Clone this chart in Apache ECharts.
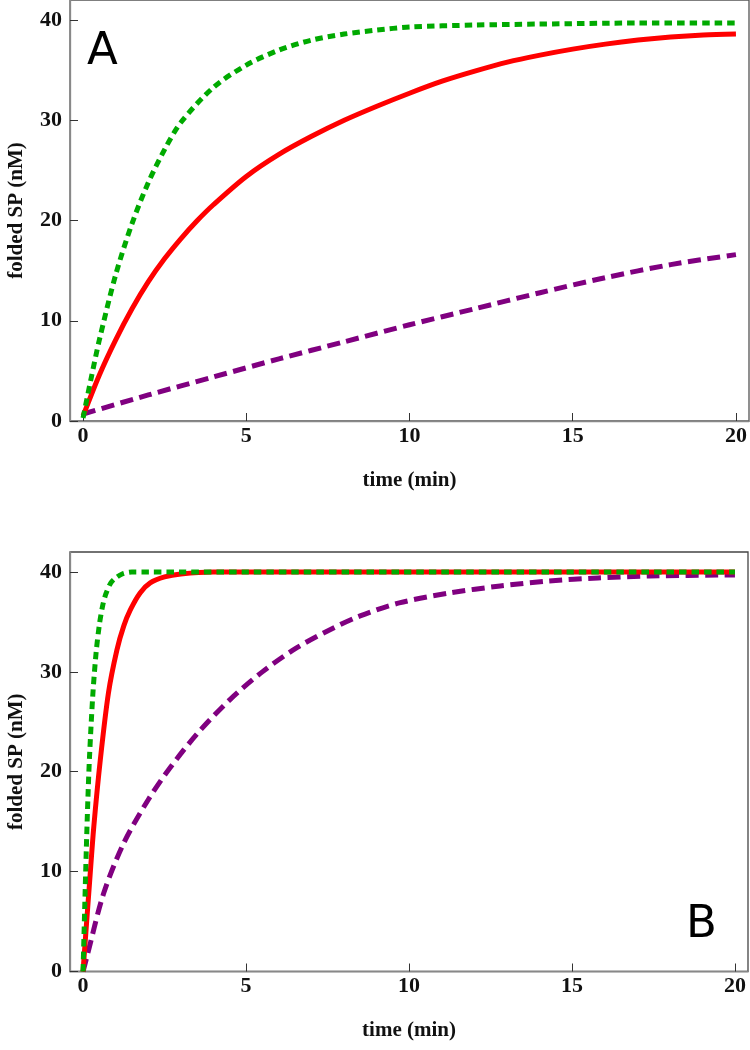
<!DOCTYPE html>
<html>
<head>
<meta charset="utf-8">
<script src="https://cdn.jsdelivr.net/npm/echarts@6/dist/echarts.min.js"></script>
<style>
html,body{margin:0;padding:0;background:#fff;}
#chart{width:750px;height:1050px;}
</style>
</head>
<body>
<div id="chart"></div>
<script>
// ---- data (time in min, folded SP in nM) ----
const xTicks = [0, 5, 10, 15, 20];
const yTicks = [0, 10, 20, 30, 40];
const xTitle = 'time (min)';
const yTitle = 'folded SP (nM)';
const panelLabels = ['A', 'B'];

// Panel A
const greenA = [[0,0.3],[0.25,4.3],[0.5,8.1],[1,14.6],[1.5,19.7],[2,23.8],[2.5,27.1],[3,29.8],[4,33.3],[5,35.5],[6,37.0],[7,38.0],[8,38.6],[9,39.0],[10,39.3],[12,39.5],[14,39.6],[17,39.7],[20,39.7]];
const redA = [[0,0.5],[0.5,4.6],[1,8.1],[1.5,11.2],[2,13.9],[2.5,16.2],[3,18.2],[3.5,20.0],[4,21.6],[5,24.4],[6,26.6],[7,28.4],[8,30.0],[9,31.4],[10,32.7],[11,33.9],[12,34.9],[13,35.8],[14,36.5],[15,37.1],[16,37.6],[17,38.0],[18,38.3],[19,38.5],[20,38.6]];
const purpleA = [[0,0.7],[2,2.6],[4,4.4],[6,6.2],[8,7.9],[10,9.6],[12,11.2],[14,12.8],[16,14.3],[18,15.6],[20,16.6]];

// Panel B
const greenB = [[0,0],[0.05,6.2],[0.1,12.2],[0.15,17.4],[0.2,21.6],[0.3,27.7],[0.4,31.9],[0.5,34.7],[0.6,36.6],[0.7,37.8],[0.85,38.9],[1.0,39.4],[1.2,39.8],[1.5,40],[2,40],[3,40],[5,40],[10,40],[15,40],[20,40]];
const redB = [[0,0],[0.1,4.5],[0.2,8.9],[0.33,14.5],[0.53,21.2],[0.78,27.9],[1.04,32.2],[1.25,34.6],[1.45,36.2],[1.75,37.9],[2.06,38.9],[2.5,39.5],[3,39.8],[4,40],[5,40],[10,40],[15,40],[20,40]];
const purpleB = [[0,0],[0.12,1.5],[0.63,7.8],[1.24,12.8],[2,17.2],[2.67,20.4],[3.5,23.8],[4.5,27.2],[5.5,30.0],[6.5,32.3],[7.5,34.1],[8.5,35.6],[9.7,36.9],[11.25,37.9],[12.8,38.6],[14.3,39.1],[15.8,39.4],[17.4,39.6],[20,39.7]];

// ---- styling ----
const serifBold = {fontFamily:'Liberation Serif', fontWeight:'bold', color:'#111'};
const GREEN = '#00aa00', RED = '#ff0000', PURPLE = '#800080';

function xAxisCfg(i){
  return {
    type:'value', gridIndex:i, min:-0.4, max:20.4,
    axisLine:{onZero:false, lineStyle:{color:'#888', width:1.3}},
    axisTick:{inside:true, length:8, customValues:xTicks, lineStyle:{color:'#333', width:1}},
    axisLabel:Object.assign({customValues:xTicks, fontSize:22, margin:4}, serifBold),
    splitLine:{show:false},
    name:xTitle, nameLocation:'middle', nameGap:49,
    nameTextStyle:Object.assign({fontSize:21}, serifBold)
  };
}
function yAxisCfg(i){
  return {
    type:'value', gridIndex:i, min:0, max:42,
    axisLine:{onZero:false, lineStyle:{color:'#888', width:1.3}},
    axisTick:{inside:true, length:8, customValues:yTicks, lineStyle:{color:'#333', width:1}},
    axisLabel:Object.assign({customValues:yTicks, fontSize:22, margin:8}, serifBold),
    splitLine:{show:false},
    name:yTitle, nameLocation:'middle', nameGap:43, nameRotate:90,
    nameTextStyle:Object.assign({fontSize:21}, serifBold)
  };
}
function line(data, i, color, width, dash, z){
  return {
    type:'line', xAxisIndex:i, yAxisIndex:i, data:data,
    showSymbol:false, symbol:'none', smooth:0.3,
    z:z, silent:true,
    lineStyle:{color:color, width:width, type:dash, cap:'butt'}
  };
}

const chart = echarts.init(document.getElementById('chart'), null, {renderer:'canvas'});
chart.setOption({
  animation:false,
  backgroundColor:'#fff',
  grid:[
    {left:70, top:0, width:679, height:421, show:true, borderColor:'#555', borderWidth:1.3, backgroundColor:'transparent', containLabel:false, outerBoundsMode:'none'},
    {left:70, top:552, width:678, height:419.5, show:true, borderColor:'#444', borderWidth:1.3, backgroundColor:'transparent', containLabel:false, outerBoundsMode:'none'}
  ],
  xAxis:[xAxisCfg(0), xAxisCfg(1)],
  yAxis:[yAxisCfg(0), yAxisCfg(1)],
  series:[
    line(purpleA, 0, PURPLE, 5, [13, 6.5], 2),
    line(redA, 0, RED, 5, 'solid', 3),
    line(greenA, 0, GREEN, 5, [7.5, 5], 4),
    line(purpleB, 1, PURPLE, 5, [13, 6.5], 2),
    line(redB, 1, RED, 5, 'solid', 3),
    line(greenB, 1, GREEN, 5, [7.5, 5], 4)
  ],
  graphic:[
    {type:'text', left:87, top:30, style:{text:panelLabels[0], fontFamily:'DejaVu Sans', fontSize:45, fill:'#000'}},
    {type:'text', left:686, top:903, style:{text:panelLabels[1], fontFamily:'DejaVu Sans', fontSize:45, fill:'#000'}}
  ]
});
</script>
</body>
</html>
